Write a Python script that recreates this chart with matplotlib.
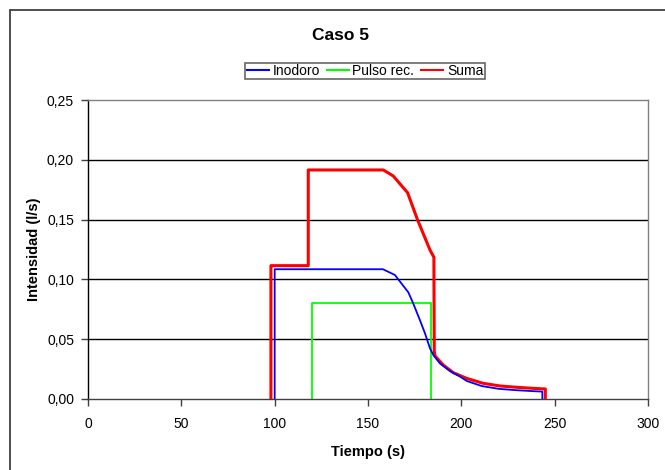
import matplotlib
matplotlib.use("Agg")
import matplotlib.pyplot as plt
from matplotlib.patches import Rectangle
from matplotlib.ticker import FuncFormatter

plt.rcParams['font.family'] = ['Liberation Sans', 'DejaVu Sans']

# Flush toilet discharge (l/s) over time (s)
inodoro_t = [100, 100, 158, 164.4, 171.6, 174.2, 177.8, 180.5, 183.2, 185.0, 188.5,
             193.9, 199.3, 203, 211, 220, 229, 238, 243.4, 243.4]
inodoro_q = [0.0, 0.1085, 0.1085, 0.1037, 0.0892, 0.080, 0.066, 0.055, 0.0424, 0.0368,
             0.0298, 0.0234, 0.0187, 0.0150, 0.0108, 0.0085, 0.0074, 0.0066, 0.0062, 0.0]

# Rectangular pulse
pulso_t = [120, 120, 183.5, 183.5]
pulso_q = [0.0, 0.080, 0.080, 0.0]

# Total flow
suma_t = [98, 98, 118, 118, 158.2, 163.5, 171.2, 176.5, 183.2, 185.3, 185.5, 185.9,
          190.3, 195.7, 202.8, 211.7, 220.7, 229.6, 238.5, 244.8, 245, 245]
suma_q = [0.0, 0.1115, 0.1115, 0.1915, 0.1915, 0.1865, 0.1725, 0.150, 0.1246, 0.1185,
          0.040, 0.036, 0.0284, 0.022, 0.0173, 0.0131, 0.0109, 0.0098, 0.0089, 0.0084,
          0.0084, 0.0]

x_ticks = [0, 50, 100, 150, 200, 250, 300]
y_ticks = [0.0, 0.05, 0.10, 0.15, 0.20, 0.25]

fig = plt.figure(figsize=(6.65, 4.70), dpi=100)

# outer chart frame
fig.patches.append(Rectangle((9.5 / 665, -0.1), 1.2, 1 - 9.5 / 470 + 0.1,
                             transform=fig.transFigure, fill=False,
                             edgecolor='#404040', linewidth=1.3, zorder=0))

ax = fig.add_axes([88 / 665, 1 - 399 / 470, 560 / 665, 299 / 470])

for y in y_ticks[1:-1]:
    ax.axhline(y, color='black', linewidth=1.0, zorder=1)

ax.plot(pulso_t, pulso_q, color='#00ff00', linewidth=1.3, label='Pulso rec.', zorder=2)
ax.plot(suma_t, suma_q, color='#ff0000', linewidth=2.2, label='Suma', zorder=3)
ax.plot(inodoro_t, inodoro_q, color='#0000ff', linewidth=1.3, label='Inodoro', zorder=4)

ax.set_xlim(0, 300)
ax.set_ylim(0, 0.25)
ax.set_xticks(x_ticks)
ax.set_yticks(y_ticks)
ax.yaxis.set_major_formatter(FuncFormatter(lambda v, p: f"{v:.2f}".replace('.', ',')))
ax.xaxis.set_major_formatter(FuncFormatter(lambda v, p: f"{int(v)}"))

ax.tick_params(axis='both', direction='out', length=5, width=1, color='#404040',
               labelsize=10)
ax.tick_params(axis='x', pad=8)
ax.tick_params(axis='y', pad=5)
ax.spines['left'].set_color('black')
ax.spines['bottom'].set_color('#404040')
ax.spines['top'].set_color('#808080')
ax.spines['right'].set_color('#808080')
for s in ax.spines.values():
    s.set_linewidth(1.0)

ax.set_xlabel('Tiempo (s)', fontsize=10.5, fontweight='bold', labelpad=10)
ax.set_ylabel('Intensidad (l/s)', fontsize=10.5, fontweight='bold', labelpad=4)

fig.text(340 / 665, 1 - 35 / 470, 'Caso 5', ha='center', va='center',
         fontsize=12.5, fontweight='bold')

handles, labels = ax.get_legend_handles_labels()
order = [labels.index(n) for n in ['Inodoro', 'Pulso rec.', 'Suma']]
leg = fig.legend([handles[i] for i in order], [labels[i] for i in order],
                 loc='center', bbox_to_anchor=(365 / 665, 1 - 71 / 470), ncol=3,
                 fontsize=10, frameon=True, fancybox=False, borderpad=0.1,
                 handlelength=1.6, handletextpad=0.25, columnspacing=0.5,
                 borderaxespad=0)
leg.get_frame().set_edgecolor('#404040')
leg.get_frame().set_linewidth(1.2)
for h in leg.get_lines():
    h.set_linewidth(1.5)

fig.savefig('out.png', dpi=100)
